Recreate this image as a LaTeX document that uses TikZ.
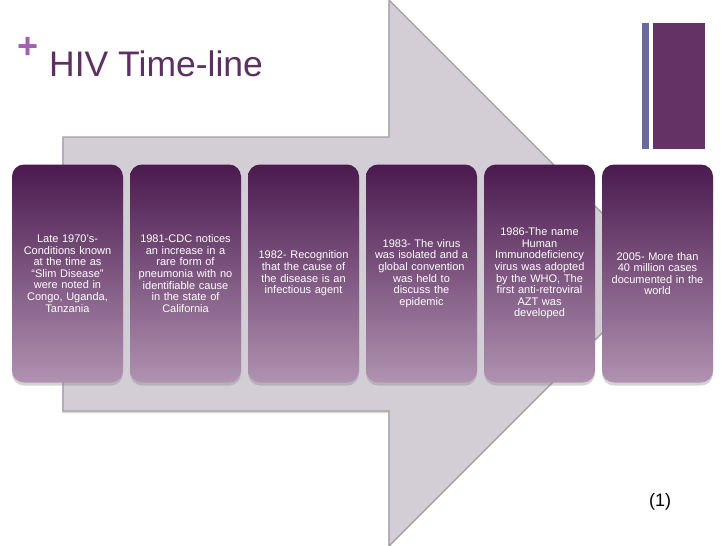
\documentclass[tikz,border=0pt]{standalone}
\usepackage{fontspec}
\setmainfont{Liberation Sans}
\usetikzlibrary{shadows}
\definecolor{arrowfill}{HTML}{D3CED6}
\definecolor{arrowline}{HTML}{A39DA5}
\definecolor{boxtop}{HTML}{4B1A4F}
\definecolor{boxbottom}{HTML}{B092B1}
\definecolor{titlepurple}{HTML}{5E2F63}
\definecolor{pluspurple}{HTML}{A35FB0}
\definecolor{barblue}{HTML}{6A6A9B}
\definecolor{barpurple}{HTML}{643265}
\tikzset{
  eventbox/.style={rounded corners=12pt, minimum width=111pt,
    minimum height=218pt, text width=106pt, align=center, inner sep=0pt,
    top color=boxtop, bottom color=boxbottom, text=white,
    font=\fontsize{11}{11.6}\selectfont,
    drop shadow={shadow xshift=0pt, shadow yshift=-3pt, opacity=0.35}},
}
\begin{document}
\begin{tikzpicture}[x=1pt,y=-1pt]
            \useasboundingbox (0,0) rectangle (728,546);
            \def\headx{389}
            \def\tipx{662}
            \def\pitch{118}
            \draw[arrowline, fill=arrowfill, line width=1.2pt,
                  drop shadow={shadow xshift=-1pt, shadow yshift=-2pt, opacity=0.3}]
                (63,137) -- (\headx,137) -- (\headx,0) -- (\tipx,273)
                -- (\headx,546) -- (\headx,411) -- (63,411) -- cycle;
            \fill[barblue] (642,23) rectangle (649,149);
            \fill[barpurple] (653,23) rectangle (705,149);
            \node[anchor=base, inner sep=0pt, text=pluspurple,
                  font=\bfseries\fontsize{36}{40}\selectfont] (plus) at (28,58) {+};
            \node[anchor=base west, inner sep=0pt, text=titlepurple,
                  font=\fontsize{35.5}{40}\selectfont] (title) at (49,76) {HIV Time-line};
            \foreach \i/\txt in {
                1/{Late 1970’s-\\Conditions known\\at the time as\\“Slim Disease”\\were noted in\\Congo, Uganda,\\Tanzania},
                2/{1981-CDC notices\\an increase in a\\rare form of\\pneumonia with no\\identifiable cause\\in the state of\\California},
                3/{1982- Recognition\\that the cause of\\the disease is an\\infectious agent},
                4/{1983- The virus\\was isolated and a\\global convention\\was held to\\discuss the\\epidemic},
                5/{1986-The name\\Human\\Immunodeficiency\\virus was adopted\\by the WHO, The\\first anti-retroviral\\AZT was\\developed},
                6/{2005- More than\\40 million cases\\documented in the\\world}}
            {\node[eventbox] (event\i) at ({\i*\pitch-50.5},273.5) {\txt};}
            \node[anchor=base, inner sep=0pt,
                  font=\fontsize{18}{20}\selectfont] (ref) at (660,506) {(1)};
            \end{tikzpicture}
\end{document}
